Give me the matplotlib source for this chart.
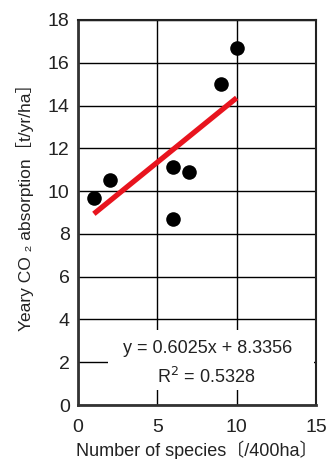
import matplotlib
matplotlib.use("Agg")
import matplotlib.pyplot as plt
from matplotlib.patches import Rectangle

species = [1, 2, 6, 6, 7, 9, 10]
co2 = [9.7, 10.5, 11.15, 8.7, 10.9, 15.0, 16.7]
slope, intercept = 0.6025, 8.3356
fit_x = [1, 10]
xticks = [0, 5, 10, 15]
yticks = [0, 2, 4, 6, 8, 10, 12, 14, 16, 18]

fam = ['Liberation Sans', 'Noto Sans CJK JP', 'DejaVu Sans']
plt.rcParams['font.family'] = fam

fig = plt.figure(figsize=(3.30, 4.59), dpi=100)
ax = fig.add_axes([78/330, 1-405/459, (316-78)/330, (405-20)/459])
ax.set_xlim(0, 15)
ax.set_ylim(0, 18)
ax.set_xticks(xticks)
ax.set_yticks(yticks)
ax.tick_params(length=0, labelsize=14, pad=6, colors='#222222')
ax.tick_params(axis='x', pad=10)
ax.grid(True, color='black', linewidth=1.0, zorder=0)
ax.set_axisbelow(True)
for s in ['left', 'bottom']:
    ax.spines[s].set_linewidth(2.0)
    ax.spines[s].set_color('#333333')
for s in ['right', 'top']:
    ax.spines[s].set_linewidth(1.5)
    ax.spines[s].set_color('#222222')

ax.add_patch(Rectangle((1.9, 0.7), 13.0, 2.8, facecolor='white', edgecolor='none', zorder=1))

ax.scatter(species, co2, s=110, color='black', zorder=3, linewidths=0)
fy = [slope * x + intercept for x in fit_x]
ax.plot(fit_x, fy, color='#e8141e', linewidth=3.8, zorder=4, solid_capstyle='butt')

ax.text(8.2, 2.66, f"y = {slope}x + {intercept}", ha='center', va='center', fontsize=13, zorder=5, color='#222222')
ax.text(8.05, 1.32, "R$^2$ = 0.5328", ha='center', va='center', fontsize=13, zorder=5, color='#222222')

ax.set_xlabel("Number of species〔/400ha〕", fontsize=13, labelpad=3, color='#222222')
ax.set_ylabel("Yeary CO ₂ absorption［t/yr/ha］", fontsize=12.5, color='#222222')
ax.yaxis.set_label_coords(-0.185, 0.525)

fig.savefig("out.png", dpi=100)
